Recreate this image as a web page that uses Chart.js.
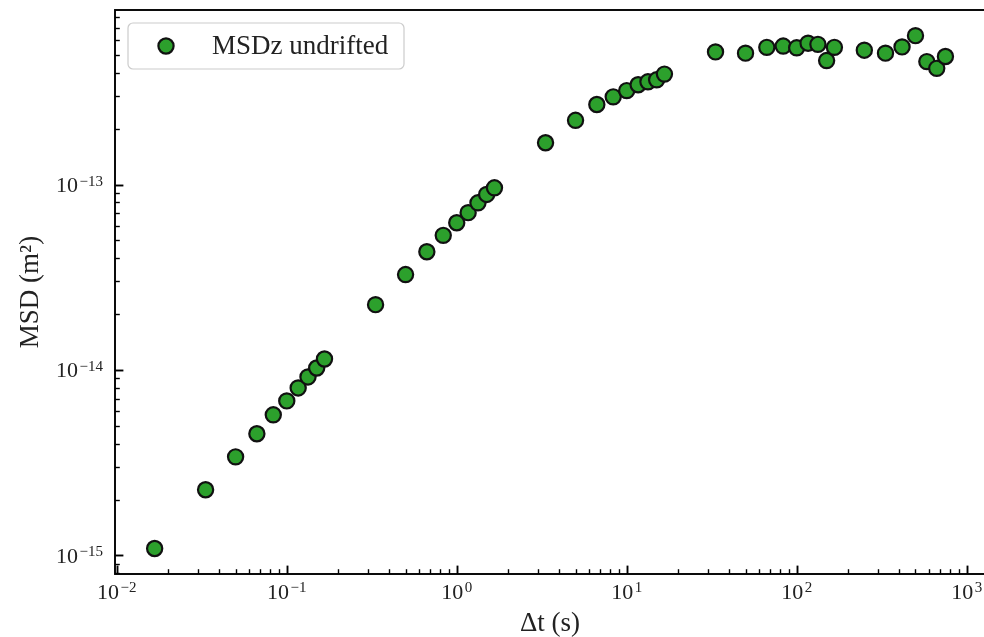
<!DOCTYPE html>
<html>
<head>
<meta charset="utf-8">
<script src="https://cdn.jsdelivr.net/npm/chart.js@4.4.1/dist/chart.umd.min.js"></script>
<style>
  html, body { margin: 0; padding: 0; background: #fff; overflow: hidden; }
  #wrap { position: relative; width: 1000px; height: 637px; }
</style>
</head>
<body>
<div id="wrap"><canvas id="canvas"></canvas></div>
<script>
// lag times (s) and MSD values (m^2)
var lag = [0.0167, 0.0333, 0.05, 0.0667, 0.0833, 0.1, 0.1167, 0.1333, 0.15, 0.1667,
           0.333, 0.5, 0.667, 0.833, 1.0, 1.167, 1.333, 1.5, 1.667,
           3.33, 5, 6.67, 8.33, 10, 11.67, 13.33, 15, 16.67,
           33.3, 50, 66.7, 83.3, 100, 116.7, 133.3, 150, 166.7,
           250, 333, 416.7, 500, 583, 666.7, 750];
var msd = [1.09e-15, 2.26e-15, 3.40e-15, 4.53e-15, 5.73e-15, 6.81e-15, 8.0e-15, 9.17e-15, 1.025e-14, 1.146e-14,
           2.25e-14, 3.27e-14, 4.34e-14, 5.32e-14, 6.22e-14, 7.05e-14, 7.97e-14, 8.84e-14, 9.6e-14,
           1.68e-13, 2.22e-13, 2.70e-13, 2.97e-13, 3.21e-13, 3.45e-13, 3.58e-13, 3.67e-13, 3.94e-13,
           5.19e-13, 5.11e-13, 5.49e-13, 5.58e-13, 5.46e-13, 5.78e-13, 5.70e-13, 4.66e-13, 5.49e-13,
           5.30e-13, 5.11e-13, 5.52e-13, 6.35e-13, 4.60e-13, 4.23e-13, 4.90e-13];
var seriesName = "MSDz undrifted";
var xLabel = "\u0394t (s)";
var yLabel = "MSD (m\u00B2)";
// decade exponents that get a "10^n" label
var xTickExp = [-2, -1, 0, 1, 2, 3];
var yTickExp = [-15, -14, -13];
var xRange = [0.00976, 1282];
var yRange = [7.94e-16, 8.73e-13];

var serif = '"Liberation Serif", "DejaVu Serif", serif';

function drawPow(ctx, exp, x, y, align) {
  var base = "10";
  var sup = (exp < 0 ? "\u2212" : "") + Math.abs(exp);
  ctx.font = "22px " + serif;
  var wb = ctx.measureText(base).width;
  ctx.font = "15px " + serif;
  var ws = ctx.measureText(sup).width;
  var total = wb + 1.5 + ws;
  var left = align === "center" ? x - total / 2 : x - total;
  ctx.textAlign = "left";
  ctx.textBaseline = "alphabetic";
  ctx.font = "22px " + serif;
  ctx.fillText(base, left, y + 7.5);
  ctx.font = "15px " + serif;
  ctx.fillText(sup, left + wb + 1.5, y + 1);
}

var axesDecor = {
  id: "axesDecor",
  afterDraw: function(chart) {
    var ctx = chart.ctx, a = chart.chartArea;
    var xs = chart.scales.x, ys = chart.scales.y;
    ctx.save();
    ctx.strokeStyle = "#000";

    // inward ticks, major at decades, minor in between
    for (var d = -3; d <= 3; d++) {
      for (var k = 1; k <= 9; k++) {
        var v = k * Math.pow(10, d);
        if (v < xs.min || v > xs.max) continue;
        var px = Math.round(xs.getPixelForValue(v)) + 0.5;
        ctx.lineWidth = k === 1 ? 1.9 : 1.4;
        ctx.beginPath();
        ctx.moveTo(px, a.bottom);
        ctx.lineTo(px, a.bottom - (k === 1 ? 8.4 : 4.8));
        ctx.stroke();
      }
    }
    for (var d = -17; d <= -11; d++) {
      for (var k = 1; k <= 9; k++) {
        var v = k * Math.pow(10, d);
        if (v < ys.min || v > ys.max) continue;
        var py = Math.round(ys.getPixelForValue(v)) + 0.5;
        ctx.lineWidth = k === 1 ? 1.9 : 1.4;
        ctx.beginPath();
        ctx.moveTo(a.left, py);
        ctx.lineTo(a.left + (k === 1 ? 8.4 : 4.8), py);
        ctx.stroke();
      }
    }

    // frame
    ctx.lineWidth = 1.9;
    ctx.strokeRect(a.left, a.top, a.right - a.left, a.bottom - a.top);

    // tick labels
    ctx.fillStyle = "#222";
    xTickExp.forEach(function(e) {
      drawPow(ctx, e, xs.getPixelForValue(Math.pow(10, e)), a.bottom + 17, "center");
    });
    yTickExp.forEach(function(e) {
      drawPow(ctx, e, a.left - 12, ys.getPixelForValue(Math.pow(10, e)), "right");
    });

    // legend
    var ds = chart.data.datasets[0];
    var bx = a.left + 13, by = a.top + 13, bw = 276, bh = 46;
    ctx.fillStyle = "rgba(255,255,255,0.8)";
    ctx.strokeStyle = "#cccccc";
    ctx.lineWidth = 1.2;
    ctx.beginPath();
    ctx.roundRect(bx, by, bw, bh, 5);
    ctx.fill();
    ctx.stroke();
    ctx.beginPath();
    ctx.arc(bx + 38, by + bh / 2, ds.pointRadius, 0, 2 * Math.PI);
    ctx.fillStyle = ds.backgroundColor;
    ctx.fill();
    ctx.lineWidth = ds.borderWidth;
    ctx.strokeStyle = ds.borderColor;
    ctx.stroke();
    ctx.font = "27px " + serif;
    ctx.fillStyle = "#222";
    ctx.textAlign = "left";
    ctx.textBaseline = "middle";
    ctx.fillText(ds.label, bx + 84, by + bh / 2 + 1);
    ctx.restore();
  }
};

var ctx = document.getElementById("canvas").getContext("2d");

var points = lag.map(function(t, i) { return { x: t, y: msd[i] }; });

var chart = new Chart(ctx, {
  type: "scatter",
  data: {
    datasets: [{
      label: seriesName,
      data: points,
      backgroundColor: "#2ca02c",
      borderColor: "#111111",
      borderWidth: 2.2,
      pointRadius: 7.6,
      pointHoverRadius: 7.6
    }]
  },
  options: {
    responsive: true,
    maintainAspectRatio: false,
    animation: false,
    events: [],
    layout: { padding: { top: 10, right: 15, left: 0, bottom: 0 } },
    plugins: { legend: { display: false }, tooltip: { enabled: false } },
    scales: {
      x: {
        type: "logarithmic",
        min: xRange[0],
        max: xRange[1],
        grid: { display: false },
        border: { display: false },
        ticks: { display: false },
        title: {
          display: true,
          text: xLabel,
          color: "#222",
          font: { family: serif, size: 27, lineHeight: 1.0 },
          padding: { top: 0, bottom: 0 }
        },
        afterFit: function(scale) { scale.height = 63; }
      },
      y: {
        type: "logarithmic",
        min: yRange[0],
        max: yRange[1],
        grid: { display: false },
        border: { display: false },
        ticks: { display: false },
        title: {
          display: true,
          text: yLabel,
          color: "#222",
          font: { family: serif, size: 27, lineHeight: 1.2 },
          padding: { top: 15, bottom: 0 }
        },
        afterFit: function(scale) { scale.width = 115; }
      }
    }
  },
  plugins: [axesDecor]
});
</script>
</body>
</html>
